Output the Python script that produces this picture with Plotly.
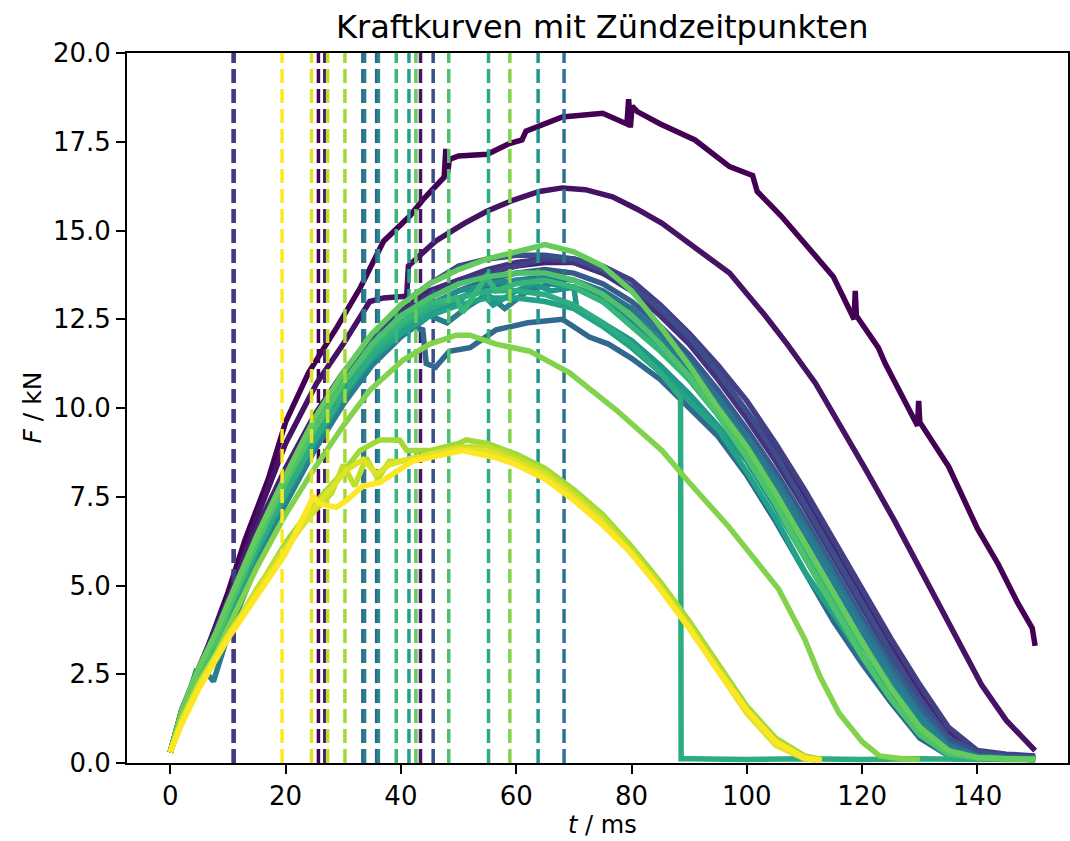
import plotly.graph_objects as go
from plotly.colors import sample_colorscale

# ---------------- data ----------------
G = [0, 2, 5, 8, 10, 15, 20, 25, 30, 35, 40, 45, 50, 55, 60, 65, 70, 75, 80, 85,
     90, 95, 100, 105, 110, 115, 120, 125, 130, 135, 140, 145, 150]

T_00 = [0, 2, 5, 8, 10, 13, 17, 20, 24, 29, 33, 37, 41.5, 44, 47.5, 47.8, 48.1, 48.4, 50, 55,
        58.8, 61, 61.7, 68, 75, 79.2, 79.5, 79.8, 80.1, 81, 85, 91, 97, 101, 101.8, 106, 110.7,
        115, 118.6, 118.8, 119.0, 122.8, 124, 129.6, 129.8, 130.0, 135, 140, 143.6, 147, 149.5, 150]
F_00 = [0.3, 1.5, 2.6, 3.9, 4.8, 6.3, 8.0, 9.6, 11.0, 12.3, 13.4, 14.7, 15.4, 15.9, 16.5, 17.3,
        16.6, 17.0, 17.1, 17.15, 17.45, 17.55, 17.8, 18.2, 18.3, 18.0, 18.7, 17.9, 18.5, 18.35,
        18.0, 17.55, 16.8, 16.55, 16.1, 15.4, 14.5, 13.7, 12.5, 13.3, 12.6, 11.7, 11.25, 9.5,
        10.2, 9.6, 8.35, 6.6, 5.6, 4.5, 3.8, 3.3]

T_01 = [0, 2, 5, 8, 10, 15, 20, 25.4, 30, 34.6, 37, 41, 41.3, 46, 51, 55, 59.4, 64, 68, 72,
        76.7, 81, 85.3, 91.7, 97, 103.2, 107, 111.9, 117, 120.5, 125.7, 131.5, 136, 140.7, 145,
        150]
F_01 = [0.3, 1.4, 2.5, 3.6, 4.5, 6.9, 9.0, 10.7, 11.8, 13.0, 13.1, 13.15, 14.0, 14.7, 15.2,
        15.55, 15.85, 16.1, 16.2, 16.15, 15.95, 15.6, 15.2, 14.45, 13.8, 12.6, 11.8, 10.7, 9.3,
        8.3, 6.8, 5.0, 3.6, 2.2, 1.2, 0.35]

T_02 = G
F_02 = [0.3, 1.5, 2.7, 3.8, 4.6, 6.6, 8.3, 9.8, 11.0, 12.0, 12.8, 13.3, 13.6, 13.8, 14.0, 14.1,
        14.1, 13.8, 13.4, 12.8, 12.0, 11.0, 9.9, 8.8, 7.5, 6.1, 4.7, 3.3, 2.0, 0.9, 0.3, 0.2, 0.15]

T_03 = G
F_03 = [0.3, 1.4, 2.6, 3.7, 4.5, 6.4, 8.1, 9.6, 10.8, 11.9, 12.7, 13.2, 13.6, 13.9, 14.1, 14.2,
        14.1, 13.8, 13.3, 12.6, 11.8, 10.8, 9.7, 8.5, 7.2, 5.8, 4.4, 3.0, 1.8, 0.7, 0.25, 0.2, 0.15]

T_04 = G
F_04 = [0.3, 1.4, 2.5, 3.6, 4.4, 6.3, 8.0, 9.5, 10.7, 11.8, 12.6, 13.1, 13.5, 13.8, 14.0, 14.2,
        14.2, 14.0, 13.6, 12.9, 12.1, 11.2, 10.2, 9.0, 7.7, 6.3, 4.9, 3.5, 2.2, 1.0, 0.35, 0.25, 0.2]

T_05 = G
F_05 = [0.3, 1.3, 2.4, 3.4, 4.2, 6.1, 7.8, 9.4, 10.9, 12.0, 12.9, 13.5, 14.0, 14.2, 14.3, 14.3,
        14.2, 13.9, 13.4, 12.8, 12.0, 11.0, 9.9, 8.7, 7.3, 5.9, 4.5, 3.1, 1.8, 0.7, 0.3, 0.2, 0.15]

T_06 = G
F_06 = [0.3, 1.3, 2.4, 3.3, 4.1, 5.9, 7.6, 9.1, 10.4, 11.5, 12.3, 12.9, 13.3, 13.6, 13.8, 13.9,
        13.8, 13.5, 13.0, 12.3, 11.5, 10.5, 9.4, 8.2, 6.9, 5.5, 4.1, 2.8, 1.6, 0.6, 0.2, 0.15, 0.15]

T_07 = [0, 2, 5, 8, 10, 15, 20, 25, 30, 35, 40, 43.8, 44.4, 46, 48.4, 52, 56.5, 62, 68, 72.7,
        76, 80, 85, 90, 95, 100, 105, 110, 115, 120, 125, 130, 135, 140, 145, 150]
F_07 = [0.3, 1.3, 2.4, 3.3, 4.1, 5.9, 7.6, 9.2, 10.5, 11.5, 12.4, 12.2, 11.25, 11.15, 11.6, 11.7,
        12.2, 12.4, 12.5, 12.0, 11.8, 11.4, 10.8, 10.0, 9.2, 8.1, 6.8, 5.4, 4.0, 2.8, 1.7, 0.7,
        0.2, 0.12, 0.1, 0.1]

T_08 = G
F_08 = [0.3, 1.4, 2.6, 3.0, 4.0, 5.9, 7.5, 9.0, 10.3, 11.3, 12.1, 12.7, 13.1, 13.4, 13.6, 13.7,
        13.6, 13.3, 12.8, 12.1, 11.3, 10.3, 9.2, 8.0, 6.7, 5.3, 3.9, 2.6, 1.4, 0.5, 0.2, 0.15, 0.12]

T_09 = [0, 2, 4.5, 6, 7.5, 10, 15, 20, 25, 30, 35, 40, 45, 48, 52, 55, 58, 62, 66, 70, 75, 80,
        85, 90, 95, 100, 105, 110, 115, 120, 125, 130, 135, 140, 145, 150]
F_09 = [0.3, 1.3, 2.6, 2.6, 2.3, 3.6, 5.6, 7.3, 8.8, 10.1, 11.2, 12.0, 12.6, 12.4, 12.9, 13.2,
        12.8, 13.3, 13.5, 13.4, 13.1, 12.6, 11.9, 11.1, 10.1, 9.0, 7.8, 6.5, 5.1, 3.7, 2.4, 1.3,
        0.4, 0.15, 0.12, 0.1]

T_10 = G
F_10 = [0.3, 1.3, 2.4, 3.3, 4.1, 6.0, 7.7, 9.2, 10.5, 11.6, 12.4, 12.9, 13.3, 13.5, 13.6, 13.6,
        13.4, 13.0, 12.4, 11.7, 10.8, 9.8, 8.7, 7.5, 6.1, 4.7, 3.4, 2.2, 1.1, 0.35, 0.15, 0.12, 0.1]

T_11 = [0, 2, 5, 8, 10, 15, 20, 25, 30, 35, 40, 45, 50, 53, 56, 60, 63, 66, 70, 70.5, 75, 80,
        85, 90, 95, 100, 105, 110, 115, 120, 125, 130, 135, 140, 145, 150]
F_11 = [0.3, 1.2, 2.4, 3.3, 4.1, 5.9, 7.5, 9.0, 10.3, 11.4, 12.2, 12.7, 13.0, 13.4, 12.9, 13.3,
        13.5, 13.3, 13.4, 12.8, 12.4, 11.9, 11.2, 10.4, 9.5, 8.5, 7.2, 5.8, 4.4, 3.0, 1.8, 0.8,
        0.25, 0.15, 0.12, 0.1]

T_12 = G
F_12 = [0.3, 1.3, 2.5, 3.4, 4.2, 6.0, 7.6, 9.1, 10.4, 11.4, 12.1, 12.6, 12.9, 13.1, 13.1, 13.0,
        12.8, 12.3, 11.7, 11.0, 10.2, 9.4, 8.2, 6.9, 5.4, 4.2, 3.0, 1.9, 0.8, 0.2, 0.12, 0.1, 0.1]

T_13 = [0, 2, 5, 8, 10, 15, 20, 25, 30, 35, 40, 45, 50, 55, 60, 65, 70, 75, 80, 85, 88.5,
        88.6, 90, 100, 110, 120, 130, 140, 150]
F_13 = [0.3, 1.3, 2.5, 3.4, 4.2, 6.0, 7.6, 9.1, 10.4, 11.5, 12.3, 12.8, 13.1, 13.3, 13.3, 13.2,
        12.9, 12.4, 11.8, 11.0, 10.3, 0.12, 0.12, 0.1, 0.12, 0.1, 0.12, 0.1, 0.12]

T_14 = [0, 2, 5, 8, 10, 15, 20, 25, 30, 35, 40, 45, 49.6, 50.7, 54.8, 56.5, 60, 65, 70, 75, 80,
        85, 90, 95, 100, 105, 110, 115, 120, 125, 130, 135, 140, 145, 150]
F_14 = [0.3, 1.4, 2.5, 3.4, 4.3, 6.2, 7.9, 9.4, 10.7, 11.7, 12.4, 12.95, 13.1, 12.7, 13.7, 13.3,
        13.5, 13.6, 13.4, 13.0, 12.3, 11.6, 10.8, 9.8, 8.7, 7.5, 6.1, 4.7, 3.3, 2.1, 1.0, 0.3,
        0.15, 0.12, 0.1]

T_15 = G
F_15 = [0.3, 1.4, 2.6, 3.5, 4.3, 6.2, 7.9, 9.4, 10.7, 11.8, 12.6, 13.1, 13.5, 13.7, 13.8, 13.8,
        13.6, 13.2, 12.6, 11.8, 10.9, 9.8, 8.6, 7.3, 5.8, 4.4, 3.0, 1.8, 0.8, 0.25, 0.15, 0.12, 0.1]

T_16 = G
F_16 = [0.3, 1.5, 2.7, 3.7, 4.5, 6.4, 8.1, 9.7, 11.0, 12.1, 12.9, 13.5, 13.9, 14.2, 14.4, 14.6,
        14.4, 14.0, 13.3, 12.3, 11.2, 10.0, 8.9, 7.6, 6.2, 4.8, 3.4, 2.1, 1.0, 0.35, 0.15, 0.12, 0.1]

T_17 = [0, 2, 5, 8, 10, 15, 20, 24.8, 30, 34.6, 40.4, 45, 49.6, 52, 56.5, 62.3, 69.2, 77.3,
        85.3, 90, 96.9, 100, 105.5, 110, 112.7, 116, 120, 123, 127, 130]
F_17 = [0.3, 1.3, 2.3, 3.1, 3.8, 5.5, 7.0, 8.25, 9.5, 10.5, 11.35, 11.8, 12.05, 12.05, 11.8,
        11.6, 11.0, 9.95, 8.8, 7.9, 6.65, 6.0, 4.9, 3.5, 2.43, 1.4, 0.6, 0.2, 0.12, 0.1]

T_18 = [0, 2, 5, 8, 10, 15, 20, 25, 30, 32.9, 36.3, 39.8, 41, 45, 50, 51.3, 55, 60, 65, 70,
        75, 80, 85, 90, 95, 100, 105, 110, 113]
F_18 = [0.3, 1.2, 2.2, 3.0, 3.6, 4.9, 6.2, 7.3, 8.2, 8.8, 9.1, 9.1, 8.8, 8.8, 9.0, 9.1, 9.0,
        8.7, 8.3, 7.7, 7.0, 6.1, 5.1, 4.0, 2.8, 1.6, 0.7, 0.2, 0.1]

T_19 = [0, 2, 5, 8, 10, 15, 20, 25, 28, 30, 32, 34, 36, 38, 40, 45, 50, 55, 60, 65, 70, 75,
        80, 85, 90, 95, 100, 105, 110, 112]
F_19 = [0.3, 1.2, 2.2, 3.0, 3.6, 4.9, 6.1, 7.1, 7.6, 8.4, 7.8, 8.6, 8.0, 8.5, 8.5, 8.7, 8.9,
        8.9, 8.6, 8.2, 7.6, 6.9, 6.0, 5.0, 3.9, 2.7, 1.5, 0.6, 0.15, 0.08]

T_20 = [0, 2, 5, 8, 10, 15, 20, 25, 30.6, 33.4, 35.8, 38, 40, 45, 50, 55, 60, 65, 70, 75, 80,
        85, 90, 95, 100, 105, 110, 112]
F_20 = [0.3, 1.2, 2.2, 3.0, 3.6, 4.8, 6.0, 7.2, 8.25, 8.55, 8.15, 8.4, 8.5, 8.7, 8.85, 8.8,
        8.5, 8.1, 7.5, 6.8, 5.9, 4.9, 3.8, 2.6, 1.4, 0.5, 0.12, 0.08]

T_21 = [0, 2, 5, 8, 10, 15, 20, 24.8, 26, 28.8, 30.6, 33.4, 36.3, 42, 45, 50.7, 56.5, 60, 65,
        70, 75, 80, 85, 90, 95, 100, 105, 110, 113]
F_21 = [0.3, 1.1, 2.1, 2.9, 3.5, 4.7, 5.9, 7.5, 7.3, 7.2, 7.4, 7.8, 7.9, 8.5, 8.6, 8.8, 8.6,
        8.4, 8.0, 7.4, 6.7, 5.9, 4.9, 3.8, 2.6, 1.5, 0.6, 0.15, 0.08]

# ignition times (ms), one per curve, same order as the curves
IGN = [25.7, 43.4, 26.8, 10.9, 11.1, 45.6, 35.8, 33.4, 68.3, 33.7, 36.1, 63.8, 41.4, 55.2,
       39.2, 48.3, 42.6, 58.9, 30.3, 27.3, 24.5, 19.4]

CURVES = [(T_00, F_00), (T_01, F_01), (T_02, F_02), (T_03, F_03), (T_04, F_04), (T_05, F_05),
          (T_06, F_06), (T_07, F_07), (T_08, F_08), (T_09, F_09), (T_10, F_10), (T_11, F_11),
          (T_12, F_12), (T_13, F_13), (T_14, F_14), (T_15, F_15), (T_16, F_16), (T_17, F_17),
          (T_18, F_18), (T_19, F_19), (T_20, F_20), (T_21, F_21)]

X_TICKS = [0, 20, 40, 60, 80, 100, 120, 140]
Y_TICKS = [0, 2.5, 5, 7.5, 10, 12.5, 15, 17.5, 20]

TITLE = "Kraftkurven mit Zündzeitpunkten"
XLABEL = "<i>t</i> / ms"
YLABEL = "<i>F</i> / kN"

# ---------------- figure ----------------
N = len(CURVES)
COLORS = sample_colorscale("Viridis", [i / (N - 1) for i in range(N)])

fig = go.Figure()
for i, ((t, f), ig) in enumerate(zip(CURVES, IGN)):
    c = COLORS[i]
    fig.add_trace(go.Scatter(x=t, y=f, mode="lines", line=dict(color=c, width=5.5),
                             showlegend=False, hoverinfo="skip"))
    fig.add_trace(go.Scatter(x=[ig, ig], y=[0, 20], mode="lines",
                             line=dict(color=c, width=3.5, dash="14px,6px"),
                             showlegend=False, hoverinfo="skip"))

FONT = "DejaVu Sans"
axis_common = dict(showgrid=False, zeroline=False, showline=True, linecolor="black",
                   linewidth=2, mirror=True, ticks="outside", ticklen=9, tickwidth=2,
                   tickcolor="black", tickfont=dict(family=FONT, size=26, color="black"))

fig.update_layout(
    width=1070, height=841,
    margin=dict(l=127, r=0, t=53, b=78),
    paper_bgcolor="white", plot_bgcolor="white",
    xaxis=dict(range=[-7.5, 155.7], tickvals=X_TICKS, ticktext=[str(v) for v in X_TICKS],
               **axis_common),
    yaxis=dict(range=[0, 20], tickvals=Y_TICKS, ticktext=[f"{v:.1f}" for v in Y_TICKS],
               **axis_common),
    annotations=[
        dict(text=TITLE, xref="x", yref="paper", x=74.9, y=(763 - 27) / 710,
             xanchor="center", yanchor="middle", showarrow=False,
             font=dict(family=FONT, size=32, color="black")),
        dict(text=XLABEL, xref="x", yref="paper", x=74.9, y=-(841 - 763) / 710,
             xanchor="center", yanchor="bottom", showarrow=False,
             font=dict(family=FONT, size=24, color="black")),
        dict(text=YLABEL, xref="paper", yref="paper", x=(31 - 126.7) / 943.3, y=0.5,
             xanchor="center", yanchor="middle", textangle=-90, showarrow=False,
             font=dict(family=FONT, size=25, color="black")),
    ],
)

fig.write_html("out.html")
